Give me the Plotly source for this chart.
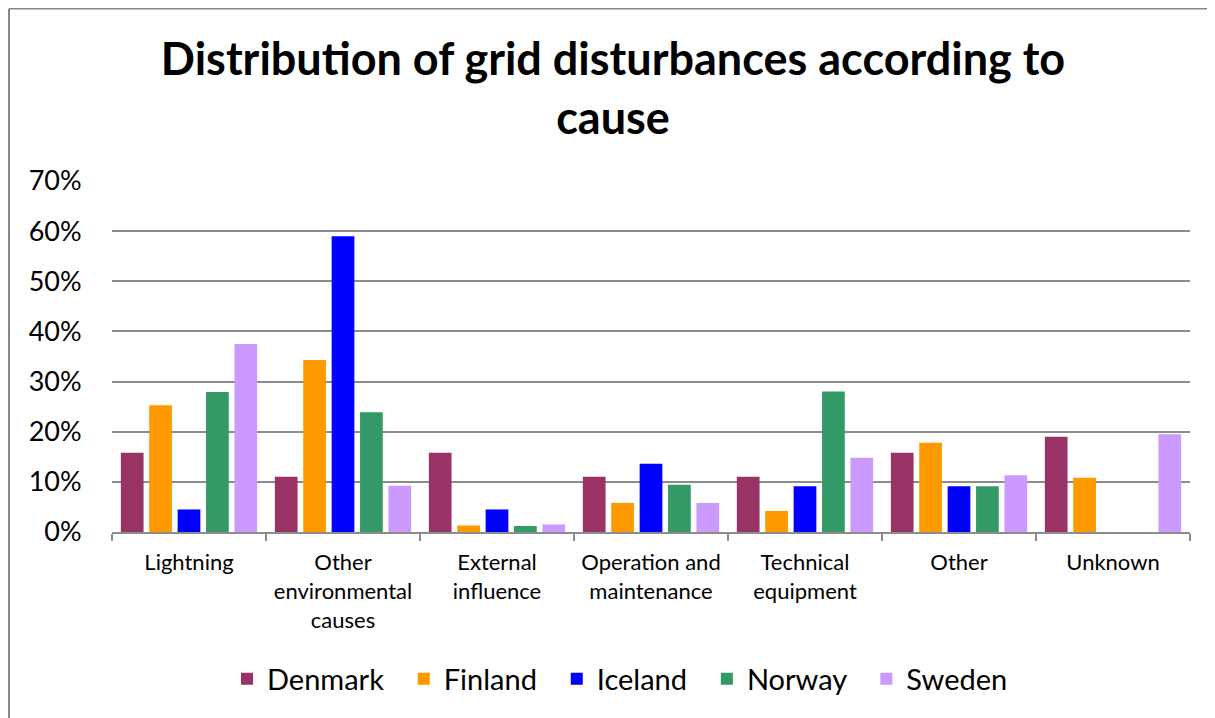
import plotly.graph_objects as go

categories = ["Lightning", "Other<br>environmental<br>causes", "External<br>influence",
              "Operation and<br>maintenance", "Technical<br>equipment", "Other", "Unknown"]
denmark = [15.8, 11.0, 15.8, 11.0, 11.0, 15.8, 19.0]
finland = [25.3, 34.3, 1.3, 5.8, 4.2, 17.8, 10.8]
iceland = [4.5, 59.0, 4.5, 13.6, 9.1, 9.1, 0]
norway = [27.9, 23.9, 1.2, 9.4, 28.0, 9.1, 0]
sweden = [37.5, 9.2, 1.5, 5.8, 14.8, 11.3, 19.5]

series = [("Denmark", denmark, "#993366"), ("Finland", finland, "#FF9900"),
          ("Iceland", iceland, "#0000FF"), ("Norway", norway, "#339966"),
          ("Sweden", sweden, "#CC99FF")]

PAD = "\u00a0" * 2
fig = go.Figure()
for i, (name, vals, col) in enumerate(series):
    label = name + (PAD if i < len(series) - 1 else "")
    fig.add_trace(go.Bar(x=categories, y=[v / 100 for v in vals], name=label,
                         marker=dict(color=col, line=dict(width=0))))

FONT = "Lato"
W, H = 1215, 718
ml, mr, mt, mb = 104, 33, 173, 194
pw, ph = W - ml - mr, H - mt - mb

fig.update_layout(
    width=W, height=H,
    margin=dict(l=ml, r=mr, t=mt, b=mb),
    paper_bgcolor="white", plot_bgcolor="white",
    font=dict(family=FONT, color="black"),
    barmode="group", bargap=0.078, bargroupgap=0.2,
    title=dict(text="<b>Distribution of grid disturbances according to<br>cause</b>",
               x=605 / W, xanchor="center", y=1 - 67 / H, yanchor="middle",
               font=dict(family=FONT, size=45, color="black")),
    legend=dict(orientation="h", x=(612 - ml) / pw, xanchor="center",
                y=(ph + mt - 671) / ph, yanchor="middle",
                font=dict(family=FONT, size=29, color="black"),
                bgcolor="rgba(0,0,0,0)", traceorder="normal"),
    showlegend=True,
)
fig.update_yaxes(range=[0, 0.7], dtick=0.1, tickformat=".0%",
                 showgrid=True, gridcolor="#8c8c8c", gridwidth=1.5,
                 zeroline=False, showline=False,
                 ticks="outside", ticklen=24, tickcolor="rgba(0,0,0,0)",
                 tickfont=dict(family=FONT, size=27, color="black"))
fig.update_xaxes(showline=True, linecolor="#8c8c8c", linewidth=2,
                 ticks="outside", tickson="boundaries", ticklen=7, tickcolor="#8c8c8c",
                 tickwidth=1.5, showgrid=False, ticklabelstandoff=10,
                 tickfont=dict(family=FONT, size=22, color="black"))

# outer chart border (left and top visible)
bx = (1 - ml) / pw
by = (ph + mt - 0.75) / ph
fig.add_shape(type="line", xref="paper", yref="paper", x0=bx, x1=1.2, y0=by, y1=by,
              line=dict(color="#868686", width=1.5))
fig.add_shape(type="line", xref="paper", yref="paper", x0=bx, x1=bx, y0=by, y1=-1,
              line=dict(color="#868686", width=2))

fig.write_html("out.html")
